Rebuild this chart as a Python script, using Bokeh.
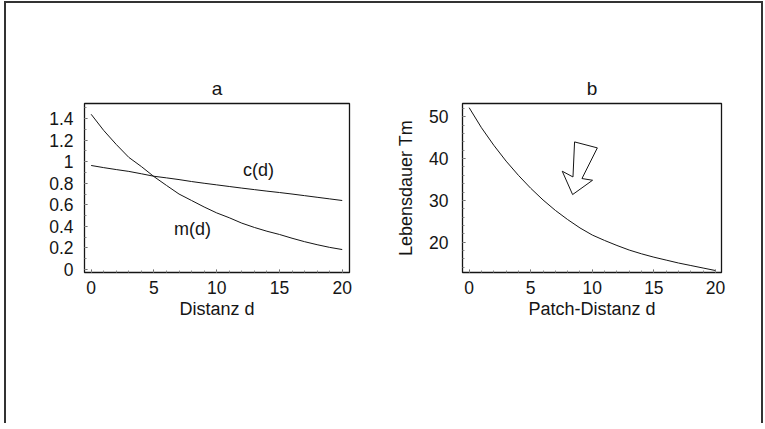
from bokeh.plotting import figure
from bokeh.layouts import row
from bokeh.models import Label, FixedTicker, Range1d
from bokeh.embed import file_html
from bokeh.resources import INLINE

# ---- data ----
d = list(range(21))
m_vals = [1.44, 1.29, 1.16, 1.04, 0.955, 0.862, 0.78, 0.70, 0.64, 0.58, 0.525,
          0.48, 0.43, 0.39, 0.355, 0.325, 0.29, 0.258, 0.23, 0.205, 0.185]
c_vals = [0.965, 0.945, 0.927, 0.91, 0.888, 0.865, 0.85, 0.834, 0.816, 0.80, 0.785,
          0.77, 0.755, 0.741, 0.727, 0.714, 0.70, 0.685, 0.67, 0.655, 0.64]
T_vals = [52.2, 47.4, 43.2, 39.4, 36.0, 32.9, 30.1, 27.6, 25.4, 23.4, 21.7,
          20.4, 19.2, 18.1, 17.2, 16.4, 15.7, 15.0, 14.4, 13.8, 13.2]
x_ticks = [0, 5, 10, 15, 20]
a_yticks = [0, 0.2, 0.4, 0.6, 0.8, 1.0, 1.2, 1.4]
a_ytick_labels = ["0", "0.2", "0.4", "0.6", "0.8", "1", "1.2", "1.4"]
b_yticks = [20, 30, 40, 50]
arrow_x = [8.56, 10.41, 9.16, 10.02, 8.40, 7.56, 8.43]
arrow_y = [44.0, 42.57, 35.23, 34.82, 31.39, 36.98, 35.61]

FONT = "Liberation Sans"
INK = "#151515"


def style(p, title, xlabel, ylabel, ylabel_standoff, ytick_standoff):
    p.title.text = title
    p.title.align = "center"
    p.title.text_font = FONT
    p.title.text_font_size = "19px"
    p.title.text_font_style = "normal"
    p.title.text_color = INK
    p.title.standoff = 10
    p.grid.visible = False
    p.outline_line_color = INK
    p.outline_line_width = 1.3
    p.outline_line_alpha = 1.0
    p.background_fill_color = "white"
    p.border_fill_color = "white"
    for ax in (p.xaxis[0], p.yaxis[0]):
        ax.axis_line_color = None
        ax.major_tick_in = 3
        ax.major_tick_out = 0
        ax.minor_tick_in = 2
        ax.minor_tick_out = 0
        ax.major_tick_line_color = "#555"
        ax.minor_tick_line_color = "#888"
        ax.major_label_text_font = FONT
        ax.major_label_text_font_size = "17.5px"
        ax.major_label_text_color = INK
        ax.axis_label_text_font = FONT
        ax.axis_label_text_font_size = "18px"
        ax.axis_label_text_font_style = "normal"
        ax.axis_label_text_color = INK
    p.xaxis[0].ticker = FixedTicker(ticks=x_ticks, minor_ticks=list(range(0, 21)))
    p.xaxis[0].major_label_standoff = 8
    p.xaxis[0].axis_label_standoff = 2
    p.xaxis[0].axis_label = xlabel
    p.yaxis[0].axis_label = ylabel
    p.yaxis[0].major_label_standoff = ytick_standoff
    p.yaxis[0].axis_label_standoff = ylabel_standoff


pa = figure(width=386, height=420, output_backend="svg", toolbar_location=None,
            x_range=Range1d(-0.53, 20.58), y_range=Range1d(-0.028, 1.54),
            min_border_left=78, min_border_right=43, min_border_top=100, min_border_bottom=151)
style(pa, "a", "Distanz d", None, 5, 11)
pa.yaxis[0].ticker = FixedTicker(ticks=a_yticks, minor_ticks=[i * 0.1 for i in range(16)])
pa.yaxis[0].major_label_overrides = {t: s for t, s in zip(a_yticks, a_ytick_labels)}
pa.line(d, m_vals, line_color=INK, line_width=1)
pa.line(d, c_vals, line_color=INK, line_width=1)
pa.add_layout(Label(x=13.33, y=0.927, text="c(d)", text_align="center", text_baseline="middle",
                    text_font=FONT, text_font_size="18px", text_color=INK))
pa.add_layout(Label(x=8.07, y=0.38, text="m(d)", text_align="center", text_baseline="middle",
                    text_font=FONT, text_font_size="18px", text_color=INK))

pb = figure(width=369, height=420, output_backend="svg", toolbar_location=None,
            x_range=Range1d(-0.54, 20.49), y_range=Range1d(12.73, 53.2),
            min_border_left=70, min_border_right=40, min_border_top=100, min_border_bottom=151)
style(pb, "b", "Patch-Distanz d", "Lebensdauer Tm", 10, 14)
pb.yaxis[0].ticker = FixedTicker(ticks=b_yticks, minor_ticks=list(range(14, 54, 2)))
pb.line(d, T_vals, line_color=INK, line_width=1)
pb.patch(arrow_x, arrow_y, fill_color="white", line_color=INK, line_width=1)

layout = row(pa, pb, spacing=0,
             styles={"border-left": "2px solid #333", "border-top": "2px solid #333",
                     "border-right": "2px solid #333",
                     "margin-left": "4px", "margin-top": "1px"})

open("out.html", "w").write(file_html(layout, INLINE))
